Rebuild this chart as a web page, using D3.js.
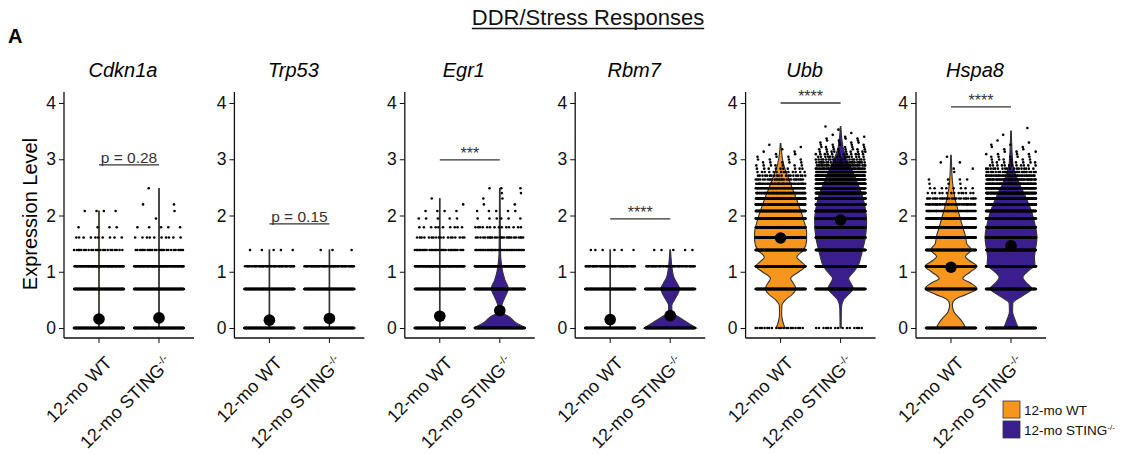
<!DOCTYPE html>
<html>
<head>
<meta charset="utf-8">
<script src="https://cdn.jsdelivr.net/npm/d3@7"></script>
<style>
  body { margin: 0; background: #fff; }
  svg { display: block; font-family: "Liberation Sans", Arial, Helvetica, sans-serif; }
</style>
</head>
<body>
<svg width="1132" height="455"></svg>
<script>
const genes = ["Cdkn1a", "Trp53", "Egr1", "Rbm7", "Ubb", "Hspa8"];
const groups = ["12-mo WT", "12-mo STING"];
const yTicks = [0, 1, 2, 3, 4];

// mean expression per gene
const meanWT = [0.16, 0.14, 0.21, 0.15, 1.60, 1.08];
const meanKO = [0.18, 0.17, 0.31, 0.22, 1.92, 1.46];

// comparison labels and bracket heights
const sigLabels = ["p = 0.28", "p = 0.15", "***", "****", "****", "****"];
const sigY = [2.9, 1.85, 2.99, 1.94, 4.0, 3.93];

// number of cells per UMI count k (value = log1p(k))
const cellsWT = [
  [200, 200, 70, 22, 10, 4, 0, 4],
  [200, 200, 45, 5],
  [200, 200, 80, 30, 18, 10, 5, 4, 1, 1],
  [200, 200, 50, 6],
  [20, 200, 200, 200, 200, 200, 200, 180, 150, 110, 75, 55, 40, 28, 20, 14, 10, 7, 5, 4, 3, 2, 2, 1, 1, 1],
  [200, 200, 200, 200, 180, 150, 110, 60, 40, 28, 14, 8, 3, 4, 0, 1, 2, 0, 2, 0, 1]
];
const cellsKO = [
  [200, 200, 70, 25, 10, 5, 1, 1, 2, 0, 0, 1],
  [200, 200, 50, 3],
  [200, 200, 90, 35, 25, 14, 6, 5, 2, 2, 2, 3],
  [200, 200, 45, 5],
  [15, 200, 200, 200, 200, 200, 200, 200, 200, 200, 180, 150, 120, 90, 70, 55, 42, 32, 25, 20, 15, 12, 10, 8, 6, 5, 4, 3, 3, 2, 1, 1, 0, 1, 0, 1],
  [200, 200, 200, 200, 200, 200, 200, 200, 200, 170, 140, 100, 70, 50, 35, 25, 18, 12, 8, 6, 5, 4, 3, 2, 2, 2, 1, 1, 0, 0, 1, 0, 0, 0, 1]
];

// violin outlines: [expression, relative half-width]
const vlnWT = [
  [[0, 0], [2.08, 0]],
  [[0, 0], [1.39, 0]],
  [[0, 0], [2.3, 0]],
  [[0, 0], [1.39, 0]],
  [[0, 0.16], [0.12, 0.07], [0.25, 0.03], [0.4, 0.04], [0.5, 0.18], [0.6, 0.45], [0.7, 0.58], [0.8, 0.48], [0.88, 0.38],
   [1.0, 0.7], [1.1, 0.95], [1.18, 0.78], [1.26, 0.62], [1.38, 0.87], [1.55, 1.0], [1.7, 1.0], [1.9, 0.9], [2.1, 0.76],
   [2.33, 0.58], [2.63, 0.32], [2.92, 0.1], [3.28, 0]],
  [[0, 0.57], [0.14, 0.38], [0.29, 0.1], [0.42, 0.04], [0.5, 0.13], [0.6, 0.6], [0.7, 1.0], [0.8, 0.75], [0.88, 0.45],
   [1.0, 0.75], [1.1, 1.0], [1.2, 0.7], [1.27, 0.55], [1.39, 0.78], [1.5, 0.6], [1.62, 0.56], [1.8, 0.44], [2.08, 0.27],
   [2.33, 0.13], [2.63, 0.04], [3.07, 0]]
];
const vlnKO = [
  [[0, 0], [2.48, 0]],
  [[0, 0], [1.39, 0]],
  [[0, 1.0], [0.1, 0.6], [0.2, 0.35], [0.28, 0.06], [0.36, 0.04], [0.45, 0.1], [0.56, 0.2], [0.7, 0.32], [0.85, 0.19],
   [1.0, 0.1], [1.15, 0.05], [1.3, 0.02], [2.0, 0.005], [2.48, 0]],
  [[0, 1.0], [0.1, 0.65], [0.2, 0.3], [0.3, 0.05], [0.4, 0.05], [0.5, 0.15], [0.6, 0.28], [0.7, 0.35], [0.8, 0.25],
   [0.9, 0.13], [1.0, 0.08], [1.1, 0.05], [1.25, 0.02], [1.39, 0]],
  [[0, 0.01], [0.35, 0.02], [0.5, 0.1], [0.6, 0.3], [0.7, 0.48], [0.8, 0.38], [0.88, 0.3], [1.0, 0.5], [1.12, 0.68],
   [1.27, 0.78], [1.4, 0.85], [1.6, 0.95], [1.9, 1.0], [2.1, 0.96], [2.33, 0.85], [2.63, 0.6], [2.92, 0.32], [3.22, 0.08], [3.58, 0]],
  [[0, 0.27], [0.14, 0.15], [0.29, 0.05], [0.44, 0.06], [0.59, 0.5], [0.7, 0.8], [0.8, 0.6], [0.9, 0.45], [1.03, 0.7],
   [1.12, 0.92], [1.25, 0.9], [1.39, 0.94], [1.62, 1.0], [1.8, 0.94], [2.04, 0.81], [2.33, 0.56], [2.63, 0.25], [2.92, 0.06], [3.5, 0]]
];

const colors = ["#F7961F", "#3A1E8E"];

const svg = d3.select("svg");
const panelW = 130;
const plotTop = 92, plotBottom = 338;

const panel = d3.scaleBand().domain(genes).range([64, 64 + 170.4 * genes.length]);
const y = d3.scaleLinear().domain([0, 4]).range([328, 103]);
const x = d3.scalePoint().domain(groups).range([0, panelW]).padding(0.583);
const halfW = d3.scaleLinear().domain([0, 1]).range([0.3, 26]);

// Title
const title = svg.append("text")
  .attr("x", 588).attr("y", 25)
  .attr("text-anchor", "middle")
  .style("font-size", "22px")
  .attr("fill", "#111")
  .text("DDR/Stress Responses");
const tb = title.node().getBBox();
svg.append("line")
  .attr("x1", tb.x).attr("x2", tb.x + tb.width)
  .attr("y1", 28.5).attr("y2", 28.5)
  .attr("stroke", "#111").attr("stroke-width", 1.3);

svg.append("text")
  .attr("x", 8).attr("y", 43)
  .style("font-size", "20px").style("font-weight", "bold")
  .text("A");

// Y axis label
svg.append("text")
  .attr("transform", "translate(37,214) rotate(-90)")
  .attr("text-anchor", "middle")
  .style("font-size", "20px")
  .text("Expression Level");

// jitter offset in [-1, 1] from a golden-ratio sequence
const jit = (j, k, g) => ((j * 0.618034 + k * 0.371 + g * 0.213) % 1) * 2 - 1;

const area = d3.area()
  .curve(d3.curveMonotoneY)
  .y(d => y(d[0]));

genes.forEach((gene, i) => {
  const g = svg.append("g").attr("transform", `translate(${panel(gene)},0)`);

  // gene title
  g.append("text")
    .attr("x", panelW / 2 - 6).attr("y", 77)
    .attr("text-anchor", "middle")
    .style("font-size", "20px").style("font-style", "italic")
    .text(gene);

  // violins
  groups.forEach((grp, gi) => {
    const prof = gi ? vlnKO[i] : vlnWT[i];
    const cx = x(grp);
    g.append("path")
      .datum(prof)
      .attr("d", area.x0(d => cx - halfW(d[1])).x1(d => cx + halfW(d[1])))
      .attr("fill", colors[gi])
      .attr("stroke", "#333")
      .attr("stroke-width", 1.1);
  });

  // jittered cells
  const pts = [];
  groups.forEach((grp, gi) => {
    const counts = gi ? cellsKO[i] : cellsWT[i];
    counts.forEach((c, k) => {
      for (let j = 0; j < c; j++) {
        pts.push({ x: x(grp) + jit(j, k, gi) * 25, y: y(Math.log1p(k)) });
      }
    });
  });
  g.append("g").selectAll("circle")
    .data(pts)
    .enter().append("circle")
    .attr("cx", d => d.x).attr("cy", d => d.y)
    .attr("r", 1.3)
    .attr("fill", "#000");

  // means
  g.selectAll(".mean")
    .data([meanWT[i], meanKO[i]])
    .enter().append("circle")
    .attr("class", "mean")
    .attr("cx", (d, gi) => x(groups[gi]))
    .attr("cy", d => y(d))
    .attr("r", 5.8)
    .attr("fill", "#000");

  // comparison bracket
  const sy = y(sigY[i]);
  g.append("line")
    .attr("x1", x(groups[0])).attr("x2", x(groups[1]))
    .attr("y1", sy).attr("y2", sy)
    .attr("stroke", "#333").attr("stroke-width", 1.3);
  const isStars = sigLabels[i].startsWith("*");
  g.append("text")
    .attr("x", (x(groups[0]) + x(groups[1])) / 2)
    .attr("y", isStars ? sy - 1 : sy - 2)
    .attr("text-anchor", "middle")
    .style("font-size", isStars ? "16px" : "15.5px")
    .attr("fill", "#333")
    .text(sigLabels[i]);

  // y axis
  const ya = g.append("g")
    .call(d3.axisLeft(y).tickValues(yTicks).tickSize(5).tickPadding(3).tickFormat(d3.format("d")));
  ya.select(".domain").remove();
  ya.selectAll("text").style("font-size", "17.5px").attr("fill", "#111");
  ya.selectAll("line").attr("stroke", "#111").attr("stroke-width", 1);
  g.append("line")
    .attr("x1", 0).attr("x2", 0).attr("y1", plotTop).attr("y2", plotBottom)
    .attr("stroke", "#111").attr("stroke-width", 1.3);

  // x axis
  g.append("line")
    .attr("x1", 0).attr("x2", panelW).attr("y1", plotBottom).attr("y2", plotBottom)
    .attr("stroke", "#111").attr("stroke-width", 1.3);
  groups.forEach((grp, gi) => {
    g.append("line")
      .attr("x1", x(grp)).attr("x2", x(grp))
      .attr("y1", plotBottom).attr("y2", plotBottom + 5)
      .attr("stroke", "#111");
    const t = g.append("text")
      .attr("transform", `translate(${x(grp) + 14},${plotBottom + 26}) rotate(-45)`)
      .attr("text-anchor", "end")
      .style("font-size", "18px")
      .attr("fill", "#111")
      .text(grp);
    if (gi) {
      t.append("tspan").attr("dy", -7).style("font-size", "10.5px").text("-/-");
    }
  });
});

// Legend
const legend = svg.append("g").attr("transform", "translate(1003,401)");
groups.forEach((grp, gi) => {
  const row = legend.append("g").attr("transform", `translate(0,${gi * 20})`);
  row.append("rect")
    .attr("width", 17).attr("height", 17)
    .attr("fill", colors[gi])
    .attr("stroke", "#333").attr("stroke-width", 0.8);
  const t = row.append("text")
    .attr("x", 21).attr("y", 14)
    .style("font-size", "13.5px")
    .attr("fill", "#111")
    .text(grp);
  if (gi) t.append("tspan").attr("dy", -5).style("font-size", "8px").text("-/-");
});
</script>
</body>
</html>
